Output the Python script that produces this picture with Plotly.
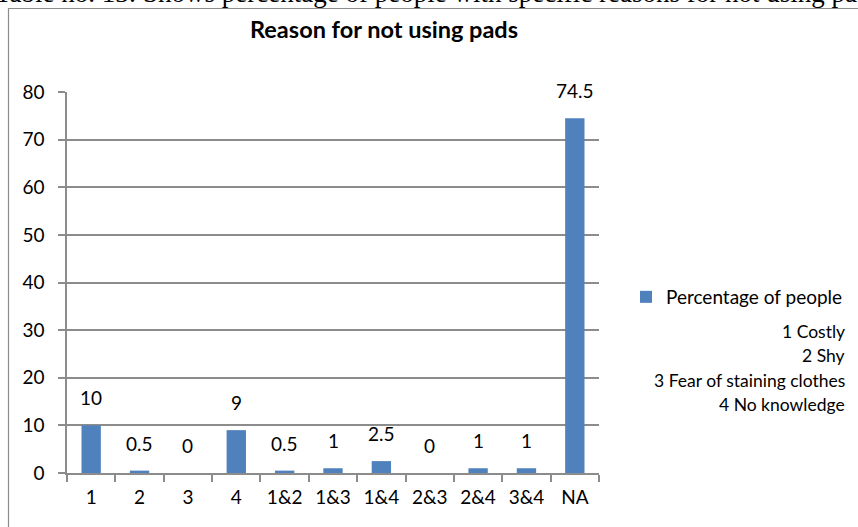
import plotly.graph_objects as go

categories = ["1", "2", "3", "4", "1&2", "1&3", "1&4", "2&3", "2&4", "3&4", "NA"]
values = [10, 0.5, 0, 9, 0.5, 1, 2.5, 0, 1, 1, 74.5]
value_labels = ["10", "0.5", "0", "9", "0.5", "1", "2.5", "0", "1", "1", "74.5"]
y_ticks = [0, 10, 20, 30, 40, 50, 60, 70, 80]
key_lines = ["1 Costly", "2 Shy", "3 Fear of staining clothes", "4 No knowledge"]
series_name = "Percentage of people"
chart_title = "Reason for not using pads"
caption = "Table no. 13: Shows percentage of people with specific reasons for not using pads"

W, H = 858, 527
L, R, T, B = 67, 259, 92, 54
pw, ph = W - L - R, H - T - B

def px_x(p):
    return (p - L) / pw

def px_y(p):
    return (H - B - p) / ph

FONT = "Lato"
GRID = "#8c8c8c"

fig = go.Figure()
fig.add_trace(go.Bar(
    x=categories, y=values, name=series_name,
    marker=dict(color="#4F81BD", line=dict(width=0)),
    showlegend=True,
))

annotations = []
for i, (v, t) in enumerate(zip(values, value_labels)):
    annotations.append(dict(x=i, y=v, xref="x", yref="y", text=t, showarrow=False,
                            yanchor="bottom", yshift=14,
                            font=dict(family=FONT, size=19, color="#000000")))

key_y = [331, 355, 380, 404]
for txt, yy in zip(key_lines, key_y):
    annotations.append(dict(x=px_x(847), y=px_y(yy), xref="paper", yref="paper",
                            text=txt, showarrow=False, xanchor="right", yanchor="middle",
                            font=dict(family=FONT, size=17.5, color="#000000")))

annotations.append(dict(x=px_x(384), y=px_y(29), xref="paper", yref="paper",
                        text="<b>" + chart_title + "</b>", showarrow=False,
                        xanchor="center", yanchor="middle",
                        font=dict(family=FONT, size=23.5, color="#000000")))

annotations.append(dict(x=px_x(438), y=px_y(-6.5), xref="paper", yref="paper",
                        text=caption, showarrow=False,
                        xanchor="center", yanchor="middle",
                        font=dict(family="Liberation Serif", size=27, color="#000000")))

fig.update_layout(
    width=W, height=H,
    margin=dict(l=L, r=R, t=T, b=B, pad=0, autoexpand=False),
    paper_bgcolor="white", plot_bgcolor="white",
    bargap=0.6,
    font=dict(family=FONT, size=19, color="#000000"),
    annotations=annotations,
    legend=dict(x=px_x(626), y=px_y(297), xanchor="left", yanchor="middle",
                font=dict(family=FONT, size=19, color="#000000"),
                bgcolor="rgba(0,0,0,0)", itemwidth=30),
    shapes=[dict(type="rect", xref="paper", yref="paper",
                 x0=px_x(8.5), x1=px_x(900), y0=px_y(600), y1=px_y(8.5),
                 line=dict(color="#8c8c8c", width=1.2), fillcolor="rgba(0,0,0,0)",
                 layer="below")],
)

fig.update_xaxes(
    type="category", showgrid=False, showline=True, linecolor=GRID, linewidth=1.5,
    ticks="outside", tickson="boundaries", ticklen=7, tickcolor=GRID, tickwidth=1.5,
    ticklabelstandoff=6,
    tickfont=dict(family=FONT, size=19, color="#000000"),
)
fig.update_yaxes(
    range=[0, 80], tickvals=y_ticks, showgrid=True, gridcolor=GRID, gridwidth=1.5,
    showline=True, linecolor=GRID, linewidth=1.5, zeroline=False,
    ticks="outside", ticklen=7, tickcolor=GRID, tickwidth=1.5,
    ticklabelstandoff=10,
    tickfont=dict(family=FONT, size=19, color="#000000"),
)

fig.write_html("out.html", config={"displayModeBar": False},
               post_script="document.body.style.margin='0';document.body.style.overflow='hidden';")
